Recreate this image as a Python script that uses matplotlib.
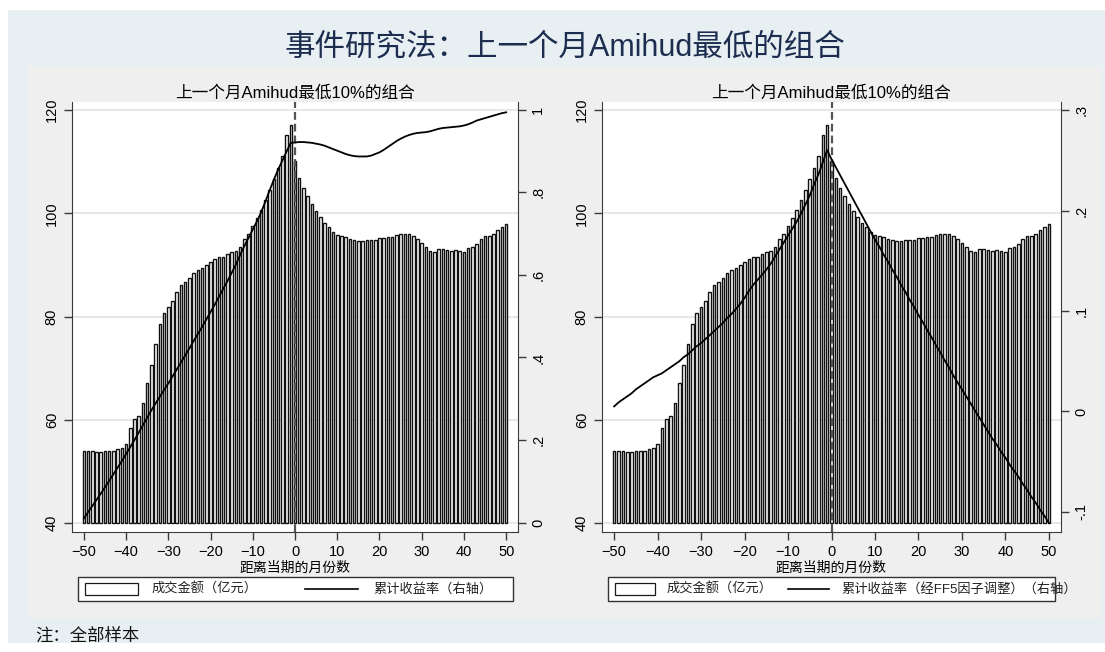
import numpy as np
import matplotlib
matplotlib.use('Agg')
import matplotlib.pyplot as plt
from matplotlib.patches import Rectangle
from matplotlib.lines import Line2D

plt.rcParams['font.family'] = ['Liberation Sans', 'Noto Sans CJK SC']

W, H = 1105, 652

# months relative to the event month
months = np.arange(-50, 51)

# turnover of the portfolio (100m yuan), left axis
volume = [53.9, 53.9, 53.9, 53.8, 53.8, 53.9, 53.9, 54.0, 54.4, 54.6,
          55.3, 58.4, 60.2, 60.8, 63.2, 67.1, 70.6, 74.7, 78.6, 80.6,
          81.8, 83.1, 84.8, 86.1, 86.6, 87.4, 88.5, 89.0, 89.4, 90.0,
          90.5, 91.1, 91.5, 91.6, 92.1, 92.4, 92.6, 93.5, 95.0, 96.0,
          97.5, 99.0, 100.6, 102.6, 104.5, 106.6, 108.8, 111.1, 115.2, 117.0,
          110.1, 106.8, 104.8, 103.4, 101.8, 100.5, 99.2, 98.2, 97.3, 96.3,
          95.7, 95.5, 95.4, 95.0, 94.8, 94.6, 94.7, 94.8, 94.8, 94.8,
          95.3, 95.3, 95.4, 95.4, 95.8, 96.0, 96.0, 95.9, 95.6, 95.0,
          94.2, 93.5, 92.6, 92.5, 93.0, 93.0, 92.9, 92.7, 92.8, 92.6,
          92.5, 93.2, 93.5, 94.0, 95.0, 95.5, 95.5, 96.0, 96.8, 97.4, 97.9]

# cumulative return, raw
cum_ret = [0.010, 0.025, 0.040, 0.055, 0.070, 0.085, 0.101, 0.117, 0.133, 0.149,
           0.166, 0.183, 0.200, 0.218, 0.236, 0.254, 0.272, 0.289, 0.305, 0.321,
           0.337, 0.354, 0.371, 0.388, 0.405, 0.422, 0.440, 0.457, 0.474, 0.492,
           0.510, 0.528, 0.547, 0.566, 0.585, 0.605, 0.625, 0.648, 0.670, 0.690,
           0.710, 0.730, 0.752, 0.778, 0.805, 0.831, 0.855, 0.877, 0.899, 0.920,
           0.921, 0.922, 0.922, 0.921, 0.920, 0.918, 0.916, 0.913, 0.909, 0.905,
           0.901, 0.897, 0.893, 0.890, 0.888, 0.887, 0.887, 0.887, 0.889, 0.893,
           0.897, 0.903, 0.910, 0.917, 0.924, 0.930, 0.935, 0.939, 0.942, 0.944,
           0.945, 0.946, 0.948, 0.951, 0.954, 0.956, 0.957, 0.958, 0.959, 0.960,
           0.962, 0.965, 0.969, 0.974, 0.977, 0.980, 0.983, 0.986, 0.989, 0.992, 0.994]

# cumulative return after FF5 adjustment
cum_ret_ff5 = [0.005, 0.009, 0.012, 0.015, 0.018, 0.022, 0.025, 0.028, 0.031, 0.034,
               0.036, 0.038, 0.041, 0.044, 0.047, 0.050, 0.054, 0.057, 0.061, 0.065,
               0.068, 0.072, 0.076, 0.080, 0.084, 0.088, 0.093, 0.097, 0.102, 0.107,
               0.113, 0.120, 0.126, 0.131, 0.136, 0.141, 0.147, 0.154, 0.161, 0.168,
               0.175, 0.182, 0.189, 0.197, 0.206, 0.215, 0.226, 0.236, 0.248, 0.260,
               0.251, 0.243, 0.235, 0.227, 0.219, 0.211, 0.203, 0.195, 0.187, 0.179,
               0.171, 0.164, 0.156, 0.149, 0.141, 0.134, 0.126, 0.119, 0.111, 0.104,
               0.096, 0.089, 0.081, 0.074, 0.066, 0.059, 0.051, 0.044, 0.036, 0.029,
               0.022, 0.015, 0.008, 0.001, -0.006, -0.013, -0.020, -0.027, -0.033, -0.040,
               -0.046, -0.053, -0.059, -0.065, -0.072, -0.078, -0.085, -0.091, -0.098, -0.104, -0.111]

title = '事件研究法：上一个月Amihud最低的组合'
subtitle = '上一个月Amihud最低10%的组合'
xlabel = '距离当期的月份数'
bar_label = '成交金额（亿元）'
line_labels = ['累计收益率（右轴）', '累计收益率（经FF5因子调整）（右轴）']
note = '注：全部样本'

x_ticks = np.arange(-50, 51, 10)
left_ticks = [40, 60, 80, 100, 120]
right_ticks = [[0, .2, .4, .6, .8, 1], [-.1, 0, .1, .2, .3]]
right_ticklabels = [['0', '.2', '.4', '.6', '.8', '1'], ['-.1', '0', '.1', '.2', '.3']]


def box(x0, y0, x1, y1):
    # pixel box (top-left origin) -> figure fraction rect
    return [x0 / W, 1 - y1 / H, (x1 - x0) / W, (y1 - y0) / H]


def add_rect(fig, x0, y0, x1, y1, **kw):
    r = Rectangle((x0 / W, 1 - y1 / H), (x1 - x0) / W, (y1 - y0) / H,
                  transform=fig.transFigure, **kw)
    fig.patches.append(r)


fig = plt.figure(figsize=(W / 100, H / 100), dpi=100)
fig.patch.set_facecolor('white')
add_rect(fig, 8, 10, W, 643, facecolor='#e8eff2', edgecolor='none', zorder=-2)
add_rect(fig, 28, 66, 1102, 618, facecolor='#efefef', edgecolor='none', zorder=-1)

fig.text(565 / W, 1 - 47 / H, title, ha='center', va='center',
         fontsize=22, color='#1c2d4f')
fig.text(35 / W, 1 - 635 / H, note, ha='left', va='center', fontsize=12.5, color='#111111')

panels = [
    dict(pos=(72, 102, 518, 532), line=cum_ret, ylim=(-0.023, 1.019),
         key=(78, 513, 85, 138, 152, 305, 358, 373)),
    dict(pos=(602, 102, 1061, 532), line=cum_ret_ff5, ylim=(-0.12, 0.308),
         key=(608, 1055, 615, 655, 667, 788, 829, 841)),
]

for i, p in enumerate(panels):
    ax = fig.add_axes(box(*p['pos']))
    ax.set_facecolor('white')
    ax.grid(axis='y', color='#e3e3e3', lw=1.2)
    ax.set_axisbelow(True)
    ax.bar(months, np.array(volume) - 40, bottom=40, width=0.6,
           color='white', edgecolor='#111111', linewidth=1.0, zorder=2)
    ax.axvline(0, color='#555555', lw=1.6, ls=(0, (3.5, 1.8)), zorder=3)
    ax.set_xlim(-52.8, 52.8)
    ax.set_ylim(38.26, 121.55)
    ax.set_xticks(x_ticks)
    ax.set_yticks(left_ticks)
    ax.set_xlabel(xlabel, fontsize=10, labelpad=1)
    ax.set_title(subtitle, fontsize=12, pad=3)
    ax.tick_params(axis='both', labelsize=10.5, length=6, color='#3a3a3a', width=1)
    for lab in ax.get_yticklabels():
        lab.set_rotation(90)
        lab.set_va('center')
    for s in ['top', 'right']:
        ax.spines[s].set_visible(False)
    for s in ['left', 'bottom']:
        ax.spines[s].set_color('#3a3a3a')

    ax2 = ax.twinx()
    ax2.plot(months, p['line'], color='black', lw=1.3, zorder=4)
    ax2.set_ylim(*p['ylim'])
    ax2.set_yticks(right_ticks[i])
    ax2.set_yticklabels(right_ticklabels[i], rotation=90, va='center')
    ax2.tick_params(axis='y', labelsize=10.5, length=6, color='#3a3a3a', width=1)
    for s in ['top', 'left', 'bottom']:
        ax2.spines[s].set_visible(False)
    ax2.spines['right'].set_color('#3a3a3a')

    # key box under each panel
    kx0, kx1, rx0, rx1, t1, lx0, lx1, t2 = p['key']
    add_rect(fig, kx0, 577, kx1, 601, facecolor='white', edgecolor='#333333', lw=1, zorder=1)
    add_rect(fig, rx0, 583, rx1, 595, facecolor='white', edgecolor='#1a1a1a', lw=0.9, zorder=2)
    fig.lines.append(Line2D([lx0 / W, lx1 / W], [1 - 589 / H, 1 - 589 / H],
                            transform=fig.transFigure, color='black', lw=1.2))
    fig.text(t1 / W, 1 - 589 / H, bar_label, ha='left', va='center', fontsize=9.5, color='#222222')
    fig.text(t2 / W, 1 - 589 / H, line_labels[i], ha='left', va='center', fontsize=9.5, color='#222222')

fig.savefig('out.png', dpi=100)
